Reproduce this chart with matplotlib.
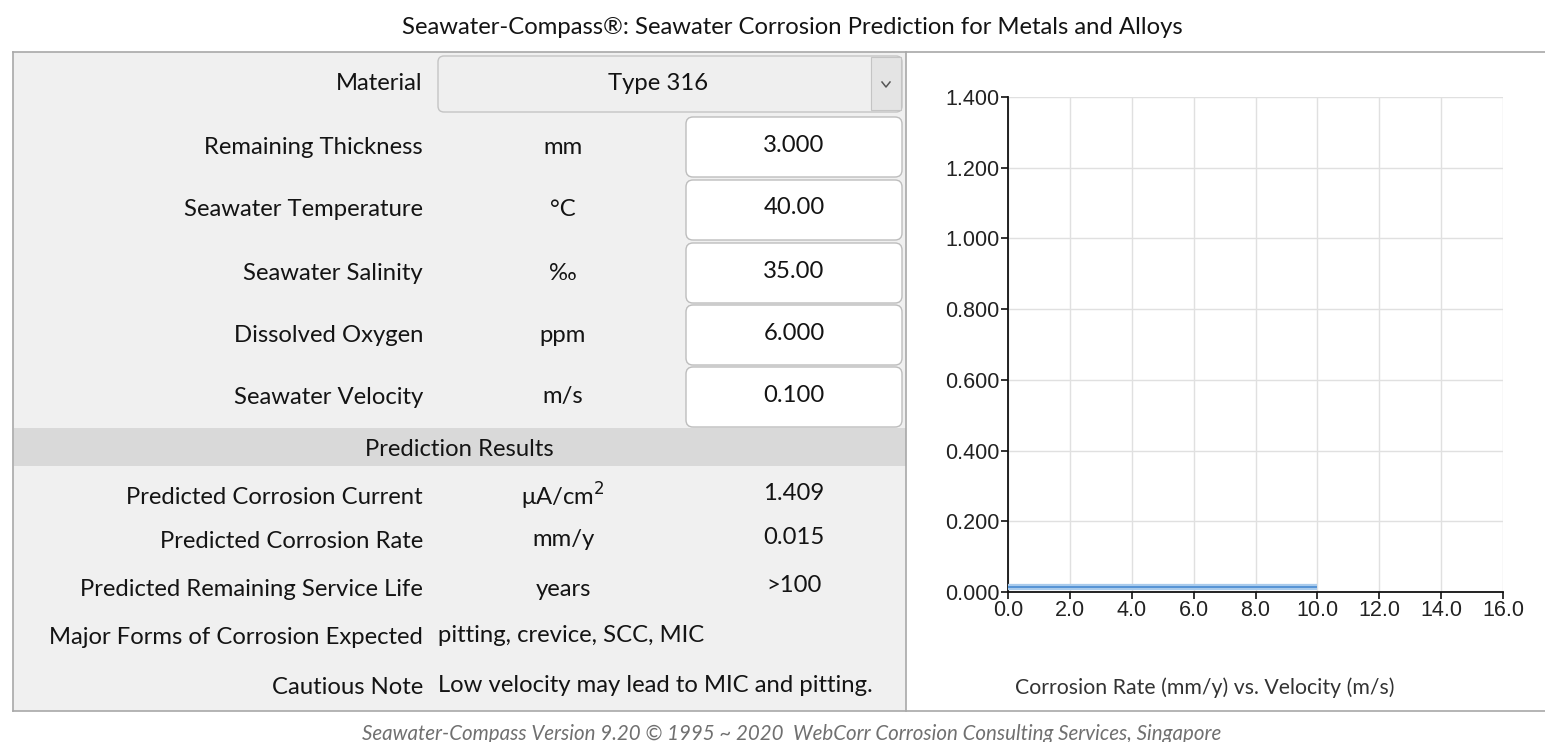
import matplotlib
matplotlib.use("Agg")
import matplotlib.pyplot as plt
from matplotlib.patches import Rectangle, FancyBboxPatch
from matplotlib.ticker import FormatStrFormatter

# --- data ---
input_labels = ["Remaining Thickness", "Seawater Temperature", "Seawater Salinity",
                "Dissolved Oxygen", "Seawater Velocity"]
input_units = ["mm", "°C", "‰", "ppm", "m/s"]
input_values = ["3.000", "40.00", "35.00", "6.000", "0.100"]
material = "Type 316"

result_labels = ["Predicted Corrosion Current", "Predicted Corrosion Rate",
                 "Predicted Remaining Service Life"]
result_units = ["μA/cm$^2$", "mm/y", "years"]
result_values = ["1.409", "0.015", ">100"]
forms_expected = "pitting, crevice, SCC, MIC"
cautious_note = "Low velocity may lead to MIC and pitting."

velocity = [0.0, 10.0]          # m/s
corrosion_rate = [0.015, 0.015]  # mm/y
x_ticks = [0, 2, 4, 6, 8, 10, 12, 14, 16]
y_ticks = [0.0, 0.2, 0.4, 0.6, 0.8, 1.0, 1.2, 1.4]

UI_FONT = "Lato"
FS = 17.2
TXT = "#141414"
W, H = 1545, 742

fig = plt.figure(figsize=(W / 100, H / 100), dpi=100, facecolor="white")

# background axes in pixel coords (y down)
bg = fig.add_axes([0, 0, 1, 1])
bg.set_xlim(0, W)
bg.set_ylim(H, 0)
bg.axis("off")


def ui_text(x, y, s, ha="left", **kw):
    kw.setdefault("fontsize", FS)
    kw.setdefault("color", TXT)
    bg.text(x, y, s, ha=ha, va="center", family=UI_FONT, **kw)


ui_text(792, 28, "Seawater-Compass®: Seawater Corrosion Prediction for Metals and Alloys", ha="center")

# panels
bg.add_patch(Rectangle((13, 52), 893, 659, facecolor="#f0f0f0", edgecolor="none"))
bg.plot([13, W], [52, 52], color="#a8a8a8", lw=1.2)
bg.plot([13, W], [711, 711], color="#a8a8a8", lw=1.2)
bg.plot([13, 13], [52, 711], color="#a8a8a8", lw=1.2)
bg.plot([906, 906], [52, 711], color="#a8a8a8", lw=1.2)

# material dropdown
ui_text(423, 84, "Material", ha="right")
bg.add_patch(FancyBboxPatch((438, 56), 464, 56, boxstyle="round,pad=0,rounding_size=6",
                            facecolor="#efefef", edgecolor="#c4c4c4", lw=1))
bg.add_patch(Rectangle((871, 57), 30, 53, facecolor="#e4e4e4", edgecolor="#c4c4c4", lw=0.8))
bg.plot([882, 886, 890], [82, 87, 82], color="#555555", lw=1.1)
ui_text(658, 84, material, ha="center")

# inputs
row_y = [147, 210, 273, 335, 397]
for y, lab, unit, val in zip(row_y, input_labels, input_units, input_values):
    ui_text(423, y, lab, ha="right")
    ui_text(563, y, unit, ha="center")
    bg.add_patch(FancyBboxPatch((686, y - 30), 216, 60, boxstyle="round,pad=0,rounding_size=7",
                                facecolor="white", edgecolor="#bdbdbd", lw=1))
    ui_text(794, y - 2, val, ha="center")

# prediction results header
bg.add_patch(Rectangle((14, 428), 892, 38, facecolor="#d9d9d9", edgecolor="none"))
ui_text(459, 449, "Prediction Results", ha="center")

res_y = [497, 541, 590]
for y, lab, unit, val in zip(res_y, result_labels, result_units, result_values):
    ui_text(423, y, lab, ha="right")
    ui_text(563, y - 1, unit, ha="center")
    ui_text(794, y - 4, val, ha="center")

ui_text(423, 638, "Major Forms of Corrosion Expected", ha="right")
ui_text(438, 636, forms_expected)
ui_text(423, 687, "Cautious Note", ha="right")
ui_text(438, 685, cautious_note)

ui_text(1205, 688, "Corrosion Rate (mm/y) vs. Velocity (m/s)", ha="center",
        fontsize=15.3, color="#333333")

ui_text(792, 734, "Seawater-Compass Version 9.20 © 1995 ~ 2020  WebCorr Corrosion Consulting Services, Singapore",
        ha="center", fontsize=14.8, style="italic", color="#707070")

# --- chart ---
ax = fig.add_axes([1008 / W, 150 / H, 495 / W, 495 / H])
ax.set_facecolor("white")
ax.plot(velocity, corrosion_rate, color="#a9cbec", lw=4.5, solid_capstyle="butt", zorder=3)
ax.plot(velocity, corrosion_rate, color="#4f8fd3", lw=1.3, solid_capstyle="butt", zorder=4)
ax.set_xlim(0, 16)
ax.set_ylim(0, 1.4)
ax.set_xticks(x_ticks)
ax.set_yticks(y_ticks)
ax.xaxis.set_major_formatter(FormatStrFormatter("%.1f"))
ax.yaxis.set_major_formatter(FormatStrFormatter("%.3f"))
ax.grid(True, color="#e0e0e0", lw=1)
ax.set_axisbelow(True)
for s in ["top", "right"]:
    ax.spines[s].set_visible(False)
for s in ["left", "bottom"]:
    ax.spines[s].set_color("#111111")
    ax.spines[s].set_linewidth(1.3)
ax.tick_params(direction="out", length=5, width=1.2, color="#111111", pad=1,
               labelsize=15.5, labelcolor="#222222")
for lab in ax.get_xticklabels() + ax.get_yticklabels():
    lab.set_family("Liberation Sans")

fig.savefig("out.png", dpi=100, facecolor="white")
